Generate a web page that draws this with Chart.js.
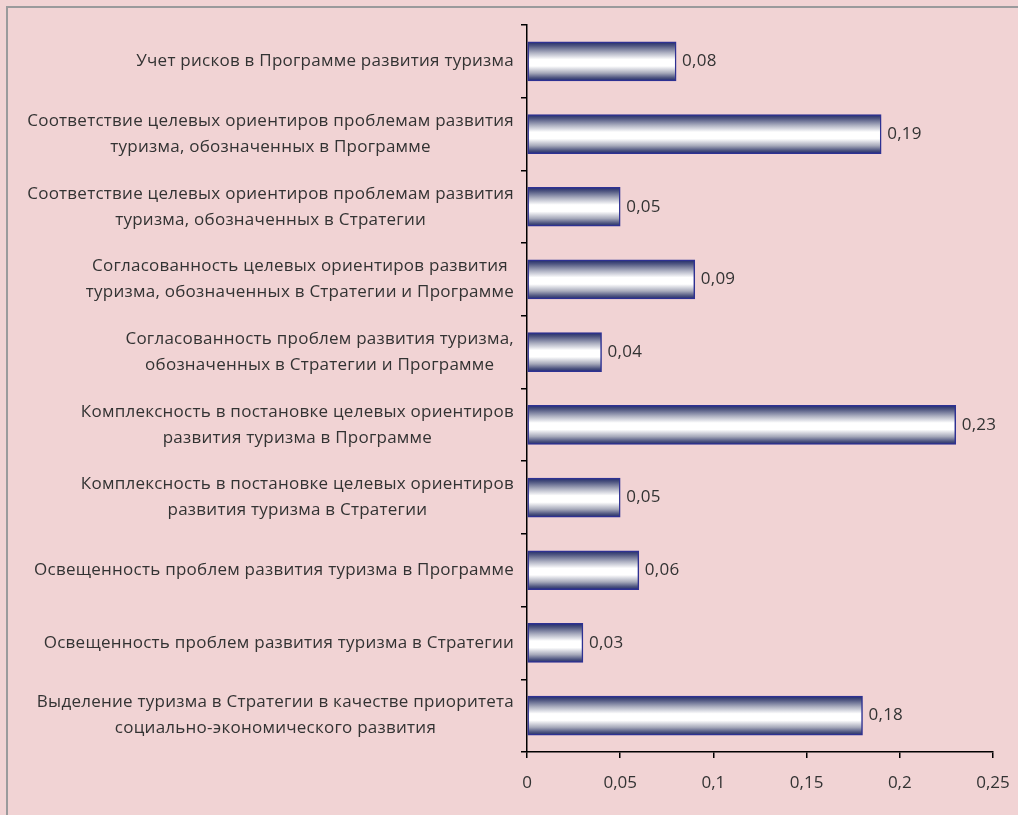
<!DOCTYPE html>
<html>
<head>
<meta charset="utf-8">
<script src="https://cdn.jsdelivr.net/npm/chart.js@4.4.1/dist/chart.umd.min.js"></script>
<style>
  html, body { margin: 0; padding: 0; background: #F1D3D4; }
  #wrap { position: relative; width: 1018px; height: 815px; overflow: hidden; }
  #frame { position: absolute; left: 6px; top: 6px; width: 1100px; height: 900px;
           border-left: 2px solid #9a9a9c; border-top: 2px solid #9a9a9c; }
  canvas { position: absolute; left: 0; top: 0; }
</style>
</head>
<body>
<div id="wrap">
  <div id="frame"></div>
  <canvas id="chart" width="1018" height="815"></canvas>
</div>
<script>
const categories = [
    ['Учет рисков в Программе развития туризма'],
    ['Соответствие целевых ориентиров проблемам развития', 'туризма, обозначенных в Программе'],
    ['Соответствие целевых ориентиров проблемам развития', 'туризма, обозначенных в Стратегии'],
    ['Согласованность целевых ориентиров развития', 'туризма, обозначенных в Стратегии и Программе'],
    ['Согласованность проблем развития туризма,', 'обозначенных в Стратегии и Программе'],
    ['Комплексность в постановке целевых ориентиров', 'развития туризма в Программе'],
    ['Комплексность в постановке целевых ориентиров', 'развития туризма в Стратегии'],
    ['Освещенность проблем развития туризма в Программе'],
    ['Освещенность проблем развития туризма в Стратегии'],
    ['Выделение туризма в Стратегии в качестве приоритета', 'социально-экономического развития']
];
const values = [0.08, 0.19, 0.05, 0.09, 0.04, 0.23, 0.05, 0.06, 0.03, 0.18];
const xTicks = [0, 0.05, 0.1, 0.15, 0.2, 0.25];

const FONT = 'Open Sans';
const FSIZE = 17;
const TEXT = '#333333';
const BAR_H = 39;
const fmt = v => String(v).replace('.', ',');

// gradient per bar, top-bottom dark, white in the middle
function barFill(ctx) {
    const chart = ctx.chart;
    const y = chart.scales && chart.scales.y;
    if (!y || ctx.dataIndex === undefined) return '#ffffff';
    const c = y.getPixelForValue(ctx.dataIndex);
    if (!isFinite(c)) return '#ffffff';
    const g = chart.ctx.createLinearGradient(0, c - BAR_H / 2, 0, c + BAR_H / 2);
    g.addColorStop(0, '#202a6a');
    g.addColorStop(0.1, '#4e5580');
    g.addColorStop(0.28, '#aeb1c2');
    g.addColorStop(0.45, '#ffffff');
    g.addColorStop(0.62, '#ffffff');
    g.addColorStop(0.8, '#a6a9ba');
    g.addColorStop(0.92, '#4e5580');
    g.addColorStop(1, '#202a6a');
    return g;
}

const labelsPlugin = {
    id: 'labelsPlugin',
    afterDraw(chart) {
        const ctx = chart.ctx;
        const y = chart.scales.y;
        const x = chart.scales.x;
        ctx.save();
        ctx.font = FSIZE + 'px ' + FONT;
        ctx.letterSpacing = '0.25px';
        ctx.fillStyle = TEXT;
        ctx.textBaseline = 'middle';
        // category labels: block right-aligned, lines centered
        categories.forEach((lines, i) => {
            const cy = y.getPixelForValue(i);
            const widest = Math.max(...lines.map(l => ctx.measureText(l).width));
            const cx = 514 - widest / 2;
            ctx.textAlign = 'center';
            const lh = 26;
            lines.forEach((l, k) => {
                ctx.fillText(l, cx, cy + (k - (lines.length - 1) / 2) * lh);
            });
        });
        // value labels
        ctx.textAlign = 'left';
        values.forEach((v, i) => {
            ctx.fillText(fmt(v), x.getPixelForValue(v) + 6, y.getPixelForValue(i));
        });
        ctx.restore();
    }
};

new Chart(document.getElementById('chart'), {
    type: 'bar',
    data: {
        labels: categories,
        datasets: [{
            data: values,
            backgroundColor: barFill,
            borderColor: '#2e3192',
            borderWidth: 1.5,
            borderSkipped: false,
            barThickness: BAR_H
        }]
    },
    options: {
        indexAxis: 'y',
        responsive: false,
        animation: false,
        layout: { padding: { top: 25, right: 25, left: 0, bottom: 0 } },
        plugins: { legend: { display: false }, tooltip: { enabled: false } },
        scales: {
            x: {
                min: 0, max: 0.25,
                afterBuildTicks: s => { s.ticks = xTicks.map(v => ({ value: v })); },
                afterFit: s => { s.height = 63; s.paddingLeft = 0; s.paddingRight = 0; },
                border: { color: '#000000', width: 1.5 },
                grid: { drawOnChartArea: false, drawTicks: true, tickLength: 6, color: '#000000', lineWidth: 1.5 },
                ticks: { color: TEXT, font: { family: FONT, size: FSIZE }, padding: 15, callback: v => fmt(v) }
            },
            y: {
                afterFit: s => { s.width = 527; },
                border: { color: '#000000', width: 1.5 },
                grid: { drawOnChartArea: false, drawTicks: true, tickLength: 6, color: '#000000', lineWidth: 1.5, offset: true },
                ticks: { display: false }
            }
        }
    },
    plugins: [labelsPlugin]
});
</script>
</body>
</html>
